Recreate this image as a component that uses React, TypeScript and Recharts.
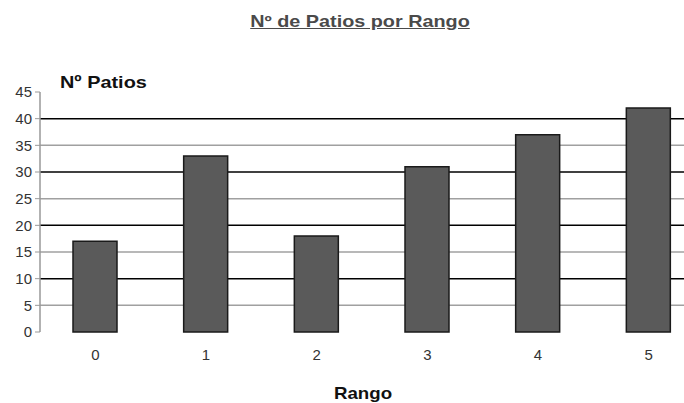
import { ComposedChart, Bar, XAxis, YAxis, CartesianGrid } from 'recharts'

const rangos = ['0', '1', '2', '3', '4', '5']
const patios = [17, 33, 18, 31, 37, 42]
const yTicks = [0, 5, 10, 15, 20, 25, 30, 35, 40, 45]
const darkGrid = [10, 20, 30, 40]
const lightGrid = [5, 15, 25, 35]
const separators = [1, 2, 3, 4, 5]

const data = rangos.map((r, i) => ({ rango: r, idx: i + 0.5, patios: patios[i] }))

const FONT = '"Liberation Sans", Arial, sans-serif'

export default function App() {
  return (
    <div
      style={{
        position: 'absolute',
        left: 0,
        top: 0,
        width: 684,
        height: 403,
        overflow: 'hidden',
        background: '#fff',
        fontFamily: FONT,
      }}
    >
      {/* the source image is stretched sideways, so the texts are widened too */}
      <div
        style={{
          position: 'absolute',
          left: 0,
          width: 720,
          top: 12,
          textAlign: 'center',
          fontSize: 16.5,
          fontWeight: 'bold',
          color: '#4a4a4a',
          textDecoration: 'underline',
          transform: 'scaleX(1.2)',
          transformOrigin: '360px 0',
        }}
      >
        Nº de Patios por Rango
      </div>
      <div
        style={{
          position: 'absolute',
          left: 60,
          top: 73,
          fontSize: 17,
          fontWeight: 'bold',
          color: '#111',
          transform: 'scaleX(1.17)',
          transformOrigin: '0 0',
        }}
      >
        Nº Patios
      </div>
      <div
        style={{
          position: 'absolute',
          left: 0,
          width: 726,
          top: 384,
          textAlign: 'center',
          fontSize: 17,
          fontWeight: 'bold',
          color: '#111',
          transform: 'scaleX(1.1)',
          transformOrigin: '363px 0',
        }}
      >
        Rango
      </div>
      <div style={{ position: 'absolute', left: 0, top: 0 }}>
        <ComposedChart
          width={720}
          height={403}
          data={data}
          margin={{ top: 92, right: 16, bottom: 0, left: 0 }}
          style={{ fontFamily: FONT }}
        >
          <CartesianGrid vertical={false} horizontalValues={lightGrid} stroke="#a0a0a0" strokeWidth={1.5} />
          <CartesianGrid vertical={false} horizontalValues={darkGrid} stroke="#000" strokeWidth={1.5} />
          <XAxis
            xAxisId="sep"
            type="number"
            dataKey="idx"
            domain={[0, 6]}
            ticks={separators}
            allowDataOverflow
            height={0}
            tick={false}
            tickSize={5}
            tickLine={{ stroke: '#333' }}
            axisLine={{ stroke: '#999', strokeWidth: 1.5 }}
          />
          <XAxis
            xAxisId="cat"
            dataKey="rango"
            height={71}
            axisLine={false}
            tickLine={false}
            tickSize={0}
            tickMargin={17}
            tick={{ fontSize: 15, fill: '#333' }}
          />
          <YAxis
            width={40}
            domain={[0, 45]}
            ticks={yTicks}
            interval={0}
            tickSize={5}
            tickMargin={3}
            tick={{ fontSize: 15, fill: '#333' }}
            tickLine={{ stroke: '#999' }}
            axisLine={{ stroke: '#999', strokeWidth: 1.5 }}
          />
          <Bar
            xAxisId="cat"
            dataKey="patios"
            fill="#5a5a5a"
            stroke="#1a1a1a"
            strokeWidth={1.5}
            barSize={44}
            isAnimationActive={false}
          />
        </ComposedChart>
      </div>
    </div>
  )
}
